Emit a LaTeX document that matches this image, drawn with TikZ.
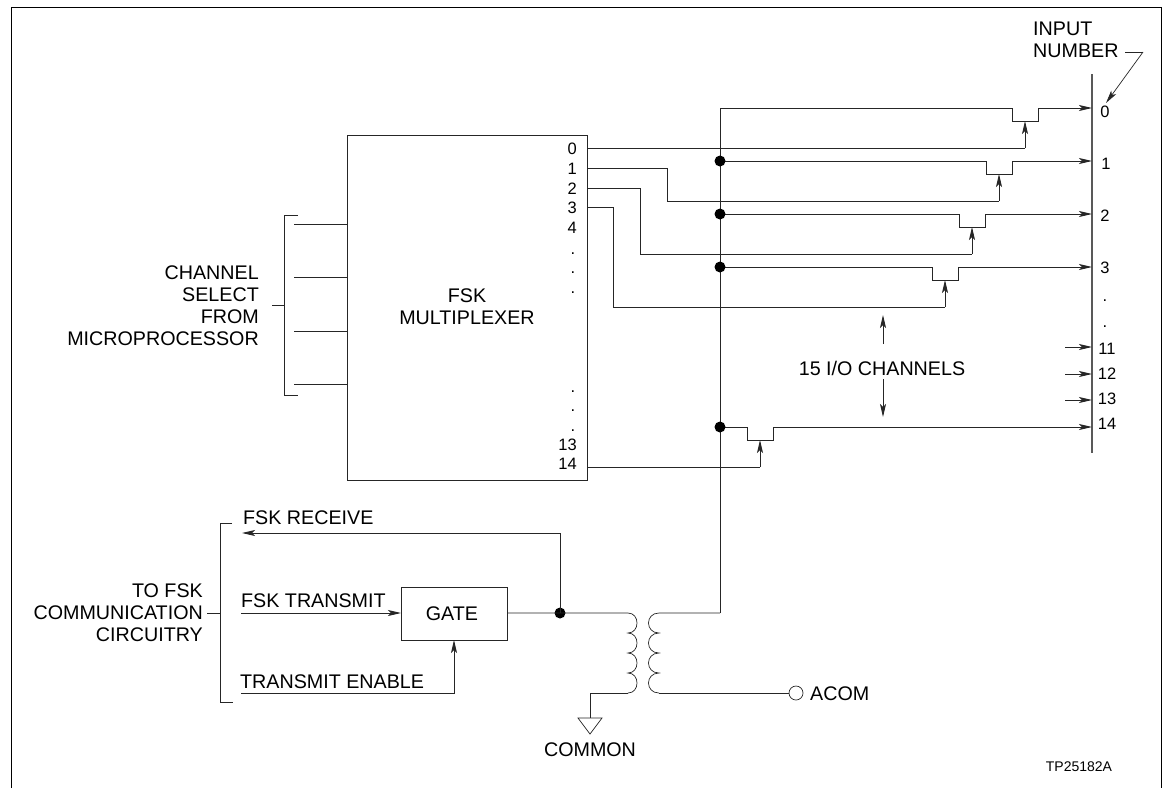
\documentclass[tikz,border=0pt]{standalone}
\usepackage{fontspec}
\setmainfont{Liberation Sans}
\usetikzlibrary{arrows.meta}

\tikzset{
  wire/.style={line width=0.9pt, black!85},
  tip/.style={wire, -{Stealth[length=13pt,width=6pt,inset=3pt]}},
  box/.style={draw, wire, fill=none, inner sep=0pt, anchor=north west},
  lab/.style={inner sep=0pt, font=\fontsize{19.7}{22}\selectfont},
  num/.style={inner sep=0pt, font=\fontsize{16.5}{18}\selectfont},
  dot/.style={circle, fill=black, inner sep=0pt, minimum size=11pt},
}

\begin{document}
\begin{tikzpicture}[x=1pt, y=-1pt]
\useasboundingbox (0,0) rectangle (1167,788);
% Draw frame
\coordinate (fa) at (11,788);
\coordinate (fb) at (11,7);
\coordinate (fc) at (1161,7);
\coordinate (fd) at (1161,788);
\draw[line width=1pt] (fa) -- (fb) -- (fc) -- (fd);
% Draw blocks
\node[box, minimum width=240pt, minimum height=345pt] (mux) at (347,135) {};
\node[box, minimum width=106pt, minimum height=53pt] (gate) at (401,587) {};
\node[lab] (gatetext) at (452,614) {GATE};
\node[lab] (fsktext) at (467,296) {FSK};
\node[lab] (muxtext) at (467,318) {MULTIPLEXER};
% Draw multiplexer labels
\foreach \n/\y in {0/149,1/169,2/189,3/208,4/228,13/445,14/464}
    \node[num, anchor=east] (out\n) at (577,\y) {\n};
\foreach \y in {253,272,292,391,410,430}
    \node[num, anchor=base] (mdot\y) at (573,\y+1) {.};
% Draw channel select
\coordinate (csa) at (298,215);
\coordinate (csb) at (284,215);
\coordinate (csc) at (284,395);
\coordinate (csd) at (298,395);
\coordinate (cse) at (284,305);
\coordinate (csf) at (272,305);
\draw[wire] (csa) -- (csb) -- (csc) -- (csd);
\draw[wire] (cse) -- (csf);
\foreach \y in {224,277,331,384} {
    \coordinate (sel\y) at (294,\y);
    \coordinate (mux\y) at (347,\y);
    \draw[wire] (sel\y) -- (mux\y);
}
\node[lab, anchor=east] (csel1) at (259,273) {CHANNEL};
\node[lab, anchor=east] (csel2) at (259,295) {SELECT};
\node[lab, anchor=east] (csel3) at (259,317) {FROM};
\node[lab, anchor=east] (csel4) at (259,339) {MICROPROCESSOR};
% Draw input rail
\coordinate (railtop) at (1092,74);
\coordinate (railbot) at (1092,453);
\draw[line width=1.2pt, black!65] (railtop) -- (railbot);
\foreach \t/\x/\y in {0/1105/112,1/1106/164,2/1105/216,3/1105/268,11/1107/349,12/1107/374,13/1107/399,14/1107/424}
    \node[num] (in\t) at (\x,\y) {\t};
\foreach \y in {293,319}
    \node[num, anchor=base] (rdot\y) at (1105,\y+8) {.};
\node[lab, anchor=west] (inputtext) at (1033,29) {INPUT};
\node[lab, anchor=west] (numbertext) at (1033,51) {NUMBER};
\coordinate (ptra) at (1125,52);
\coordinate (ptrb) at (1143,52);
\coordinate (ptrc) at (1106,103);
\draw[wire, line width=0.7pt] (ptra) -- (ptrb);
\draw[tip, line width=0.7pt] (ptrb) -- (ptrc);
% Draw bus
\coordinate (bustop) at (720,108);
\coordinate (busbot) at (720,613);
\draw[wire] (bustop) -- (busbot);
% Draw gated channels: name, line y, notch left, output y
\foreach \n/\y/\x/\o in {0/108/1012/148,1/161/986/201,2/214/959/254,3/267/932/307,14/427/747/467} {
    \coordinate (ta\n) at (720,\y);
    \coordinate (tb\n) at (\x,\y);
    \coordinate (tc\n) at (\x,\y+13);
    \coordinate (td\n) at (\x+26,\y+13);
    \coordinate (te\n) at (\x+26,\y);
    \coordinate (tf\n) at (1092,\y);
    \coordinate (tg\n) at (\x+13,\y+13);
    \coordinate (th\n) at (\x+13,\o);
    \draw[tip] (ta\n) -- (tb\n) -- (tc\n) -- (td\n) -- (te\n) -- (tf\n);
    \draw[tip] (th\n) -- (tg\n);
}
\foreach \n/\y in {1/161,2/214,3/267,14/427}
    \node[dot] (busdot\n) at (720,\y) {};
% Draw multiplexer outputs
\coordinate (ma0) at (587,148);
\draw[wire] (ma0) -- (th0);
\coordinate (ma1) at (587,168);
\coordinate (mb1) at (667,168);
\coordinate (mc1) at (667,201);
\draw[wire] (ma1) -- (mb1) -- (mc1) -- (th1);
\coordinate (ma2) at (587,188);
\coordinate (mb2) at (640,188);
\coordinate (mc2) at (640,254);
\draw[wire] (ma2) -- (mb2) -- (mc2) -- (th2);
\coordinate (ma3) at (587,207);
\coordinate (mb3) at (613,207);
\coordinate (mc3) at (613,307);
\draw[wire] (ma3) -- (mb3) -- (mc3) -- (th3);
\coordinate (ma14) at (587,467);
\draw[wire] (ma14) -- (th14);
% Draw short input arrows
\foreach \y in {347,374,400} {
    \coordinate (sa\y) at (1065,\y);
    \coordinate (sb\y) at (1092,\y);
    \draw[tip] (sa\y) -- (sb\y);
}
% Draw channel count label
\node[lab] (iotext) at (882,368) {15 I/O CHANNELS};
\coordinate (upa) at (883,344);
\coordinate (upb) at (883,315);
\coordinate (dna) at (883,379);
\coordinate (dnb) at (883,417);
\draw[tip] (upa) -- (upb);
\draw[tip] (dna) -- (dnb);
% Draw FSK side
\coordinate (fba) at (232,523);
\coordinate (fbb) at (220,523);
\coordinate (fbc) at (220,702);
\coordinate (fbd) at (233,702);
\coordinate (fbe) at (220,613);
\coordinate (fbf) at (207,613);
\draw[wire] (fba) -- (fbb) -- (fbc) -- (fbd);
\draw[wire] (fbe) -- (fbf);
\node[lab, anchor=east] (tofsk1) at (203,591) {TO FSK};
\node[lab, anchor=east] (tofsk2) at (203,613) {COMMUNICATION};
\node[lab, anchor=east] (tofsk3) at (203,635) {CIRCUITRY};
\node[lab, anchor=west] (rxtext) at (243,518) {FSK RECEIVE};
\node[lab, anchor=west] (txtext) at (241,601) {FSK TRANSMIT};
\node[lab, anchor=west] (entext) at (240,682) {TRANSMIT ENABLE};
\node[dot] (rxdot) at (560,613) {};
\coordinate (rxa) at (560,533);
\coordinate (rxb) at (242,533);
\draw[tip] (rxdot.center) -- (rxa) -- (rxb);
\coordinate (txa) at (241,613);
\coordinate (txb) at (401,613);
\draw[tip] (txa) -- (txb);
\coordinate (ena) at (241,693);
\coordinate (enb) at (454,693);
\coordinate (enc) at (454,640);
\draw[tip] (ena) -- (enb) -- (enc);
% Draw transformer
\coordinate (gout) at (507,613);
\coordinate (lctop) at (628,613);
\coordinate (lcbot) at (628,693);
\coordinate (rctop) at (659,613);
\coordinate (rcbot) at (659,693);
\draw[wire, line width=0.7pt] (gout) -- (lctop)
    .. controls +(12,0) and +(12,0) .. ++(0,20)
    .. controls +(12,0) and +(12,0) .. ++(0,20)
    .. controls +(12,0) and +(12,0) .. ++(0,20)
    .. controls +(12,0) and +(12,0) .. (lcbot);
\coordinate (gnda) at (590,693);
\coordinate (gndb) at (590,718);
\draw[wire, line width=0.7pt] (lcbot) -- (gnda) -- (gndb);
\coordinate (gndl) at (578,718);
\coordinate (gndr) at (602,718);
\coordinate (gndt) at (590,734);
\draw[wire, line width=0.7pt] (gndl) -- (gndr) -- (gndt) -- cycle;
\node[lab] (commontext) at (590,750) {COMMON};
\draw[wire, line width=0.7pt] (busbot) -- (rctop)
    .. controls +(-14,0) and +(-14,0) .. ++(0,20)
    .. controls +(-14,0) and +(-14,0) .. ++(0,20)
    .. controls +(-14,0) and +(-14,0) .. ++(0,20)
    .. controls +(-14,0) and +(-14,0) .. (rcbot);
\node[circle, draw, wire, line width=0.7pt, fill=white, inner sep=0pt, minimum size=14pt] (acom) at (796,693) {};
\draw[wire] (rcbot) -- (acom);
\node[lab, anchor=west] (acomtext) at (810,694) {ACOM};
\node[inner sep=0pt, font=\fontsize{14}{16}\selectfont] (tptext) at (1079,767) {TP25182A};
\end{tikzpicture}
\end{document}
